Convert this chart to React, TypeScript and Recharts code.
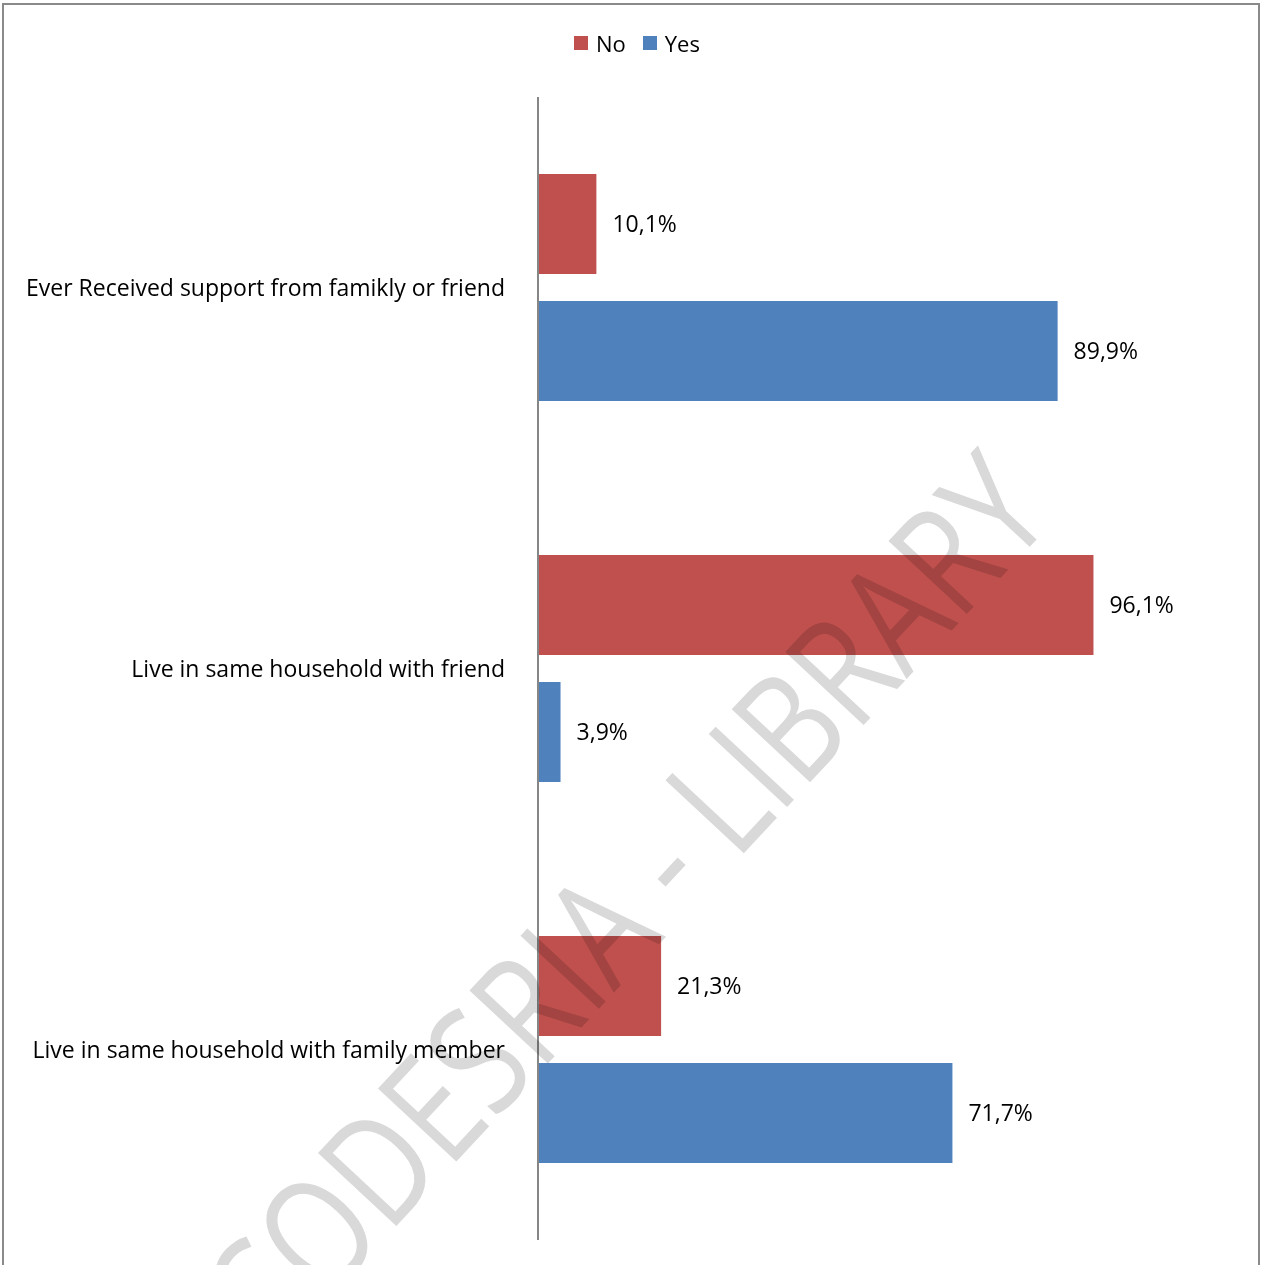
import React from "react"
import { BarChart, Bar, XAxis, YAxis, Legend, LabelList } from "recharts"

const categories = [
  "Ever Received support from famikly or friend",
  "Live in same household with friend",
  "Live in same household with family member",
]
const noValues = [10.1, 96.1, 21.3]
const yesValues = [89.9, 3.9, 71.7]

const data = categories.map((category, i) => ({
  category,
  No: noValues[i],
  Yes: yesValues[i],
}))

const RED = "#C0504D"
const BLUE = "#4F81BD"
const FONT = "'Open Sans', sans-serif"

// excel-style label: 10,1%
const pct = (v: number | string) => `${Number(v).toFixed(1).replace(".", ",")}%`

function LegendContent({ payload }: { payload?: Array<{ value: string; color: string }> }) {
  if (!payload) return null
  return (
    <div style={{ display: "flex", alignItems: "center", fontFamily: FONT, fontSize: 22 }}>
      {payload.map((p, i) => (
        <div key={p.value} style={{ display: "flex", alignItems: "center", marginRight: i === 0 ? 17 : 0 }}>
          <span style={{ width: 14, height: 14, background: p.color, marginRight: 8, display: "inline-block" }} />
          <span style={{ color: "#000" }}>{p.value}</span>
        </div>
      ))}
    </div>
  )
}

export default function App() {
  return (
    <div style={{ position: "absolute", left: 0, top: 0, width: 1261, height: 1265, overflow: "hidden", background: "#fff" }}>
      <div
        style={{
          position: "absolute",
          left: 2,
          top: 3,
          width: 1258,
          height: 1262,
          boxSizing: "border-box",
          borderTop: "2px solid #8a8a8a",
          borderLeft: "2px solid #8a8a8a",
          borderRight: "2px solid #8a8a8a",
        }}
      />
      <BarChart
        width={1261}
        height={1265}
        data={data}
        layout="vertical"
        margin={{ top: 97, right: 145, bottom: 25, left: 0 }}
        barCategoryGap={77}
        barGap={27}
        style={{ position: "absolute", left: 0, top: 0 }}
      >
        <XAxis type="number" domain={[0, 100]} hide />
        <YAxis
          type="category"
          dataKey="category"
          width={538}
          axisLine={{ stroke: "#868686", strokeWidth: 2 }}
          tickLine={false}
          tickSize={0}
          tickMargin={33}
          tick={{ fill: "#000", fontSize: 23, fontFamily: FONT }}
        />
        {/* middle keeps the legend out of the plot offset; top is forced below */}
        <Legend
          verticalAlign="middle"
          content={<LegendContent />}
          wrapperStyle={{ top: 28, left: 574, width: "auto" }}
        />
        <Bar dataKey="No" fill={RED} isAnimationActive={false}>
          <LabelList dataKey="No" position="right" offset={16} formatter={pct} fill="#000" fontSize={23} fontFamily={FONT} />
        </Bar>
        <Bar dataKey="Yes" fill={BLUE} isAnimationActive={false}>
          <LabelList dataKey="Yes" position="right" offset={16} formatter={pct} fill="#000" fontSize={23} fontFamily={FONT} />
        </Bar>
      </BarChart>
      <svg
        width={1261}
        height={1265}
        style={{ position: "absolute", left: 0, top: 0, pointerEvents: "none", mixBlendMode: "multiply" }}
      >
        <text
          x={664}
          y={939}
          textAnchor="middle"
          transform="rotate(-47 664 939)"
          fontFamily={FONT}
          fontSize={150}
          textLength={1150}
          lengthAdjust="spacingAndGlyphs"
          fill="#d9d9d9"
        >
          CODESRIA - LIBRARY
        </text>
      </svg>
    </div>
  )
}
